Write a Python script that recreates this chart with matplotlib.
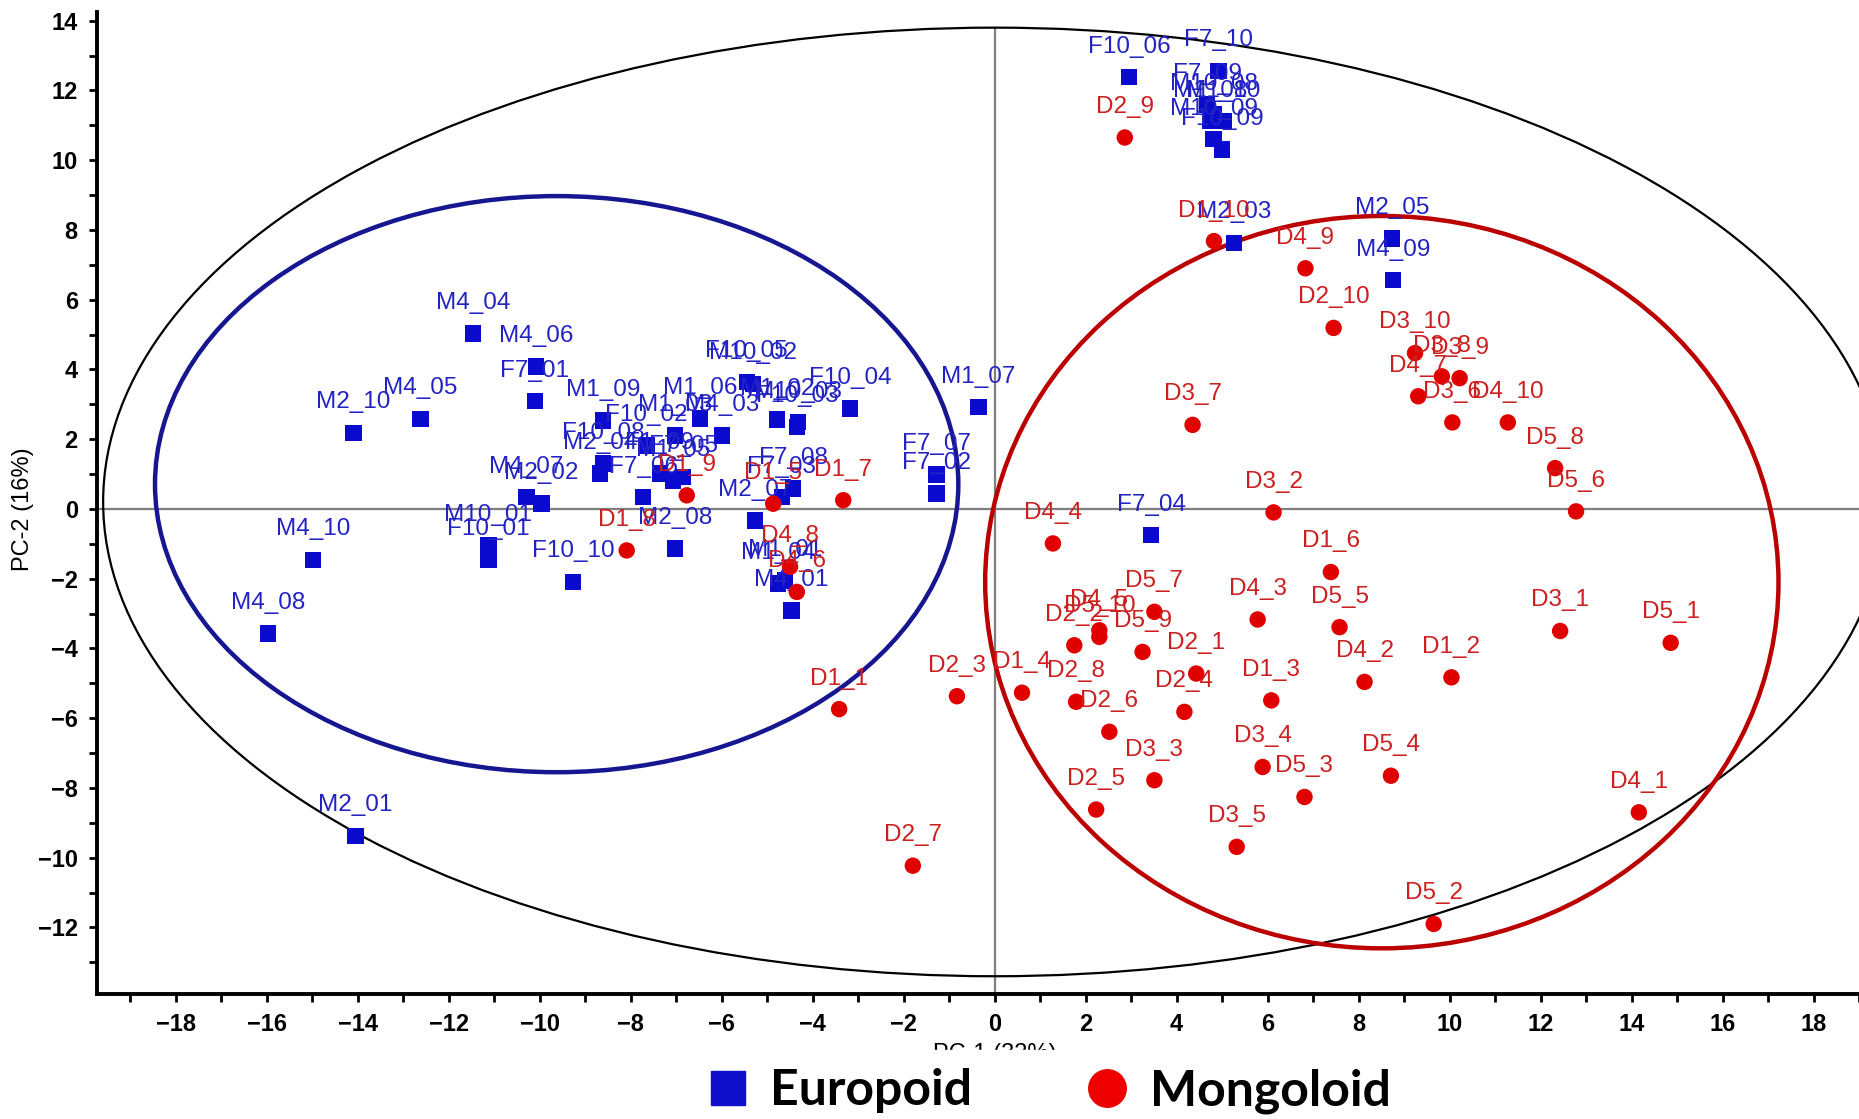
import matplotlib
matplotlib.use('Agg')
import matplotlib.pyplot as plt
from matplotlib.patches import Ellipse
from matplotlib.lines import Line2D
from matplotlib.ticker import MultipleLocator

# Europoid samples (PC-1, PC-2)
europoid_names = ['F10_06', 'F7_10', 'F7_09', 'M10_08', 'M1_08', 'M1_10', 'M10_09', 'F10_09',
                  'M2_03', 'M2_05', 'M4_09', 'M4_04', 'M4_06', 'F7_01', 'M2_10', 'M4_05',
                  'M4_10', 'M4_08', 'M2_01', 'M4_07', 'M2_02', 'M10_01', 'F10_01', 'F10_10',
                  'M1_09', 'M1_06', 'M4_03', 'M1_03', 'F10_02', 'F10_08', 'M2_04', 'F1_09',
                  'M1_05', 'F7_05', 'F7_06', 'M2_08', 'F10_05', 'M10_02', 'M1_02', 'M10_03',
                  'F10_03', 'F10_04', 'F7_08', 'F7_03', 'M2_07', 'M1_04', 'M1_01', 'M4_01',
                  'F7_07', 'F7_02', 'M1_07', 'F7_04']
europoid_x = [2.95, 4.92, 4.67, 4.81, 4.74, 5.03, 4.81, 5.00,
              5.26, 8.73, 8.76, -11.47, -10.09, -10.11, -14.10, -12.62,
              -14.99, -15.98, -14.05, -10.29, -9.96, -11.13, -11.13, -9.27,
              -8.61, -6.48, -6.00, -7.03, -7.65, -8.61, -8.68, -7.36,
              -7.07, -6.85, -7.73, -7.03, -5.45, -5.31, -4.79, -4.32,
              -4.35, -3.18, -4.43, -4.68, -5.27, -4.76, -4.61, -4.47,
              -1.28, -1.28, -0.36, 3.44]
europoid_y = [12.38, 12.56, 11.60, 11.31, 11.12, 11.12, 10.60, 10.31,
              7.63, 7.75, 6.56, 5.03, 4.08, 3.09, 2.18, 2.58,
              -1.46, -3.57, -9.38, 0.34, 0.15, -1.05, -1.46, -2.09,
              2.54, 2.59, 2.11, 2.11, 1.82, 1.30, 1.01, 1.01,
              0.82, 0.92, 0.34, -1.14, 3.64, 3.59, 2.56, 2.49,
              2.35, 2.88, 0.58, 0.34, -0.33, -2.14, -2.05, -2.91,
              0.99, 0.44, 2.92, -0.75]

# Mongoloid samples (PC-1, PC-2)
mongoloid_names = ['D1_1', 'D1_2', 'D1_3', 'D1_4', 'D1_5', 'D1_6', 'D1_7', 'D1_8', 'D1_9', 'D1_10',
                   'D2_1', 'D2_2', 'D2_3', 'D2_4', 'D2_5', 'D2_6', 'D2_7', 'D2_8', 'D2_9', 'D2_10',
                   'D3_1', 'D3_2', 'D3_3', 'D3_4', 'D3_5', 'D3_6', 'D3_7', 'D3_8', 'D3_9', 'D3_10',
                   'D4_1', 'D4_2', 'D4_3', 'D4_4', 'D4_5', 'D4_6', 'D4_7', 'D4_8', 'D4_9', 'D4_10',
                   'D5_1', 'D5_2', 'D5_3', 'D5_4', 'D5_5', 'D5_6', 'D5_7', 'D5_8', 'D5_9', 'D5_10']
mongoloid_x = [-3.42, 10.04, 6.08, 0.60, -4.87, 7.39, -3.33, -8.09, -6.77, 4.82,
               4.43, 1.75, -0.83, 4.17, 2.23, 2.52, -1.80, 1.79, 2.86, 7.45,
               12.43, 6.13, 3.51, 5.89, 5.32, 10.06, 4.35, 9.83, 10.22, 9.24,
               14.16, 8.13, 5.78, 1.28, 2.30, -4.35, 9.31, -4.50, 6.83, 11.28,
               14.86, 9.65, 6.81, 8.71, 7.58, 12.78, 3.51, 12.32, 3.25, 2.30]
mongoloid_y = [-5.74, -4.83, -5.49, -5.27, 0.15, -1.81, 0.25, -1.19, 0.39, 7.68,
               -4.72, -3.91, -5.37, -5.82, -8.62, -6.39, -10.23, -5.53, 10.65, 5.19,
               -3.50, -0.10, -7.78, -7.40, -9.69, 2.48, 2.41, 3.80, 3.75, 4.47,
               -8.70, -4.96, -3.17, -0.99, -3.48, -2.38, 3.23, -1.66, 6.90, 2.48,
               -3.84, -11.90, -8.26, -7.65, -3.39, -0.07, -2.95, 1.17, -4.10, -3.67]

# Couleurs
bleu_point = '#0b0bcf'
bleu_texte = '#2323c4'
rouge_point = '#e00000'
rouge_texte = '#cc1f1f'

fig = plt.figure(figsize=(18.59, 11.19), dpi=100)
ax = fig.add_axes([0.0523, 0.112, 0.9477, 0.877])
ax.set_xlim(-19.73, 19.0)
ax.set_ylim(-13.9, 14.24)

# Ellipses (Hotelling + groupes)
ax.add_patch(Ellipse((0, 0.2), 39.2, 27.2, fill=False, edgecolor='black', lw=1.6, zorder=1))
ax.add_patch(Ellipse((-9.63, 0.71), 17.66, 16.52, fill=False, edgecolor='#161690', lw=3.2, zorder=1))
ax.add_patch(Ellipse((8.51, -2.1), 17.44, 21.0, fill=False, edgecolor='#bb0000', lw=3.2, zorder=1))

# Axes de référence
ax.axhline(0, color='#7f7f7f', lw=1.6, zorder=0.5)
ax.plot([0, 0], [-13.9, 13.8], color='#7f7f7f', lw=1.6, zorder=0.5)

# Points
ax.scatter(europoid_x, europoid_y, marker='s', s=140, color=bleu_point, edgecolors='none', zorder=3)
for nom, x, y in zip(europoid_names, europoid_x, europoid_y):
    ax.annotate(nom, (x, y), xytext=(0, 22), textcoords='offset points', ha='center', va='center',
                fontsize=17.5, color=bleu_texte, family='Liberation Sans', zorder=4)

ax.scatter(mongoloid_x, mongoloid_y, marker='o', s=140, color=rouge_point, edgecolors='none', zorder=5)
for nom, x, y in zip(mongoloid_names, mongoloid_x, mongoloid_y):
    ax.annotate(nom, (x, y), xytext=(0, 22), textcoords='offset points', ha='center', va='center',
                fontsize=17.5, color=rouge_texte, family='Liberation Sans', zorder=6)

# Style des axes
for cote in ['top', 'right']:
    ax.spines[cote].set_visible(False)
for cote in ['left', 'bottom']:
    ax.spines[cote].set_linewidth(2.8)
ax.xaxis.set_major_locator(MultipleLocator(2))
ax.xaxis.set_minor_locator(MultipleLocator(1))
ax.yaxis.set_major_locator(MultipleLocator(2))
ax.yaxis.set_minor_locator(MultipleLocator(1))
ax.tick_params(which='both', direction='out', width=2, length=6, pad=8)
for lab in ax.get_xticklabels() + ax.get_yticklabels():
    lab.set_family('Liberation Sans')
    lab.set_fontsize(17)
    lab.set_fontweight('bold')

fig.text(0.0125, 0.545, 'PC-2 (16%)', rotation=90, ha='center', va='center',
         fontsize=17, family='Liberation Sans')
fig.text(0.535, 0.058, 'PC-1 (32%)', ha='center', va='center',
         fontsize=17, family='Liberation Sans', zorder=0)

# Légende (par-dessus le titre de l'axe x, comme dans l'original)
poignees = [Line2D([], [], marker='s', linestyle='None', color='#0f0fcc', markersize=25),
            Line2D([], [], marker='o', linestyle='None', color='#ee0000', markersize=27)]
leg = fig.legend(poignees, ['Europoid', 'Mongoloid'], loc='center', bbox_to_anchor=(0.5645, 0.025),
                 ncol=2, frameon=True, fancybox=False, borderpad=0.36, handlelength=0.8,
                 handletextpad=0.45, columnspacing=2.3,
                 prop={'family': 'Lato', 'weight': 'bold', 'size': 36})
leg.get_frame().set_facecolor('white')
leg.get_frame().set_edgecolor('white')
leg.get_frame().set_alpha(1)

plt.savefig('out.png', dpi=100)
